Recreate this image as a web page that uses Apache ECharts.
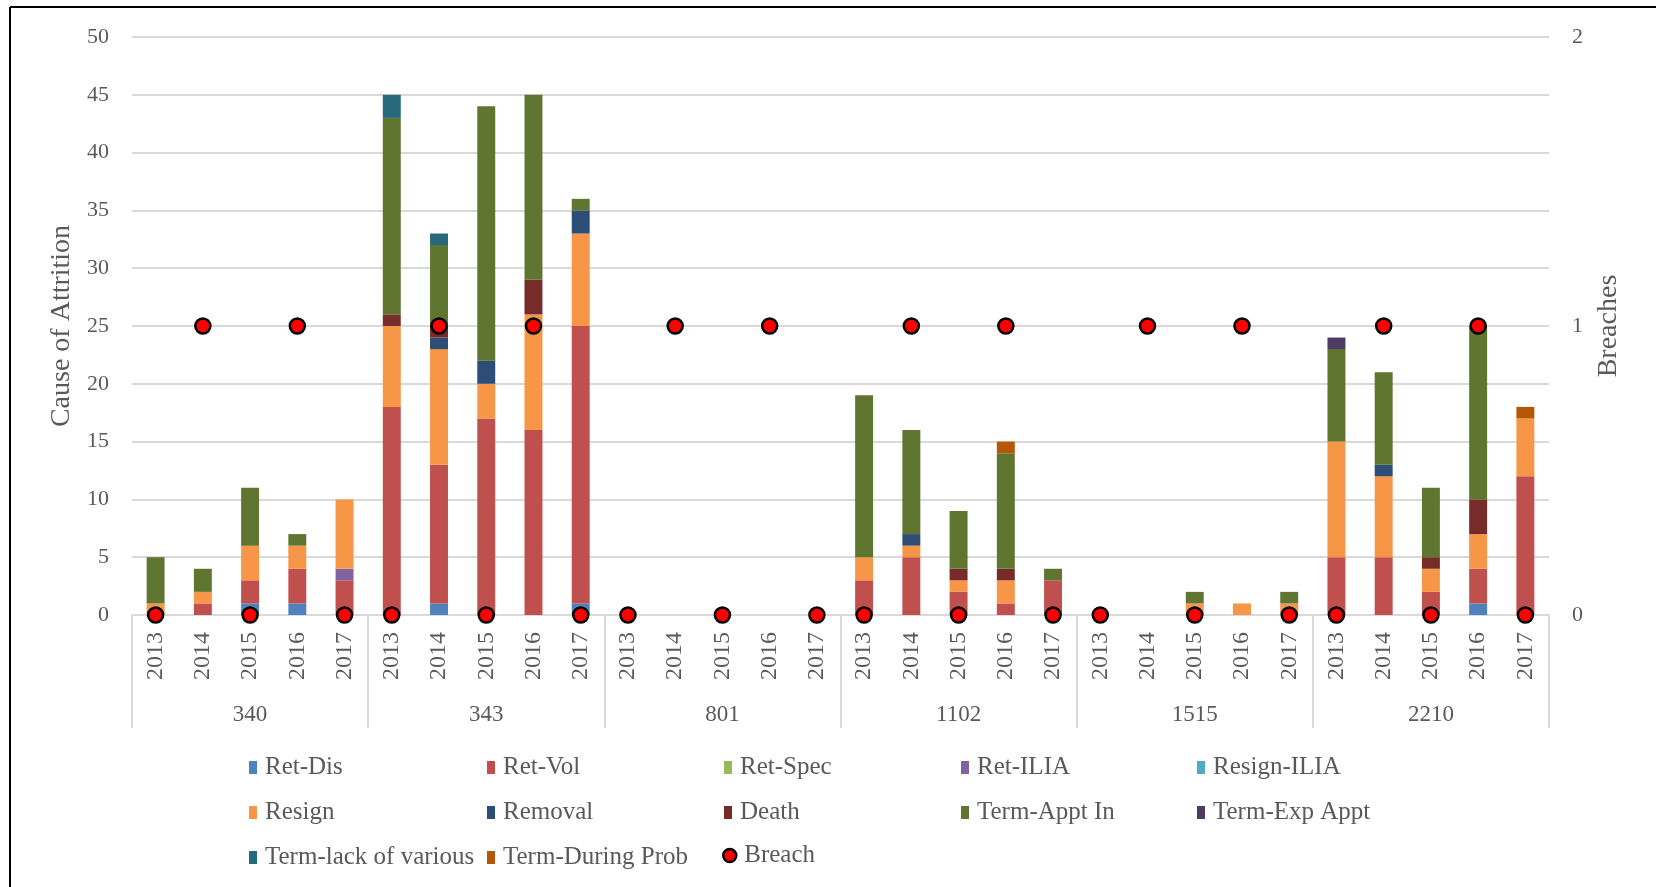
<!DOCTYPE html>
<html>
<head>
<meta charset="utf-8">
<title>Cause of Attrition</title>
<script src="https://cdn.jsdelivr.net/npm/echarts@6/dist/echarts.min.js"></script>
<style>
  html, body { margin: 0; padding: 0; background: #fff; }
  #chart { width: 1656px; height: 887px; }
</style>
</head>
<body>
<div id="chart"></div>
<script>
// categories
const years = ['2013', '2014', '2015', '2016', '2017']
const groups = ['340', '343', '801', '1102', '1515', '2210']

// stacked counts, 5 years per group in the order of `groups`
const retDis = [0, 0, 1, 1, 0, 0, 1, 0, 0, 1, 0, 0, 0, 0, 0, 0, 0, 0, 0, 0, 0, 0, 0, 0, 0, 0, 0, 0, 1, 0]
const retVol = [0, 1, 2, 3, 3, 18, 12, 17, 16, 24, 0, 0, 0, 0, 0, 3, 5, 2, 1, 3, 0, 0, 0, 0, 0, 5, 5, 2, 3, 12]
const retSpec = [0, 0, 0, 0, 0, 0, 0, 0, 0, 0, 0, 0, 0, 0, 0, 0, 0, 0, 0, 0, 0, 0, 0, 0, 0, 0, 0, 0, 0, 0]
const retIlia = [0, 0, 0, 0, 1, 0, 0, 0, 0, 0, 0, 0, 0, 0, 0, 0, 0, 0, 0, 0, 0, 0, 0, 0, 0, 0, 0, 0, 0, 0]
const resignIlia = [0, 0, 0, 0, 0, 0, 0, 0, 0, 0, 0, 0, 0, 0, 0, 0, 0, 0, 0, 0, 0, 0, 0, 0, 0, 0, 0, 0, 0, 0]
const resign = [1, 1, 3, 2, 6, 7, 10, 3, 10, 8, 0, 0, 0, 0, 0, 2, 1, 1, 2, 0, 0, 0, 1, 1, 1, 10, 7, 2, 3, 5]
const removal = [0, 0, 0, 0, 0, 0, 1, 2, 0, 2, 0, 0, 0, 0, 0, 0, 1, 0, 0, 0, 0, 0, 0, 0, 0, 0, 1, 0, 0, 0]
const death = [0, 0, 0, 0, 0, 1, 1, 0, 3, 0, 0, 0, 0, 0, 0, 0, 0, 1, 1, 0, 0, 0, 0, 0, 0, 0, 0, 1, 3, 0]
const termApptIn = [4, 2, 5, 1, 0, 17, 7, 22, 16, 1, 0, 0, 0, 0, 0, 14, 9, 5, 10, 1, 0, 0, 1, 0, 1, 8, 8, 6, 15, 0]
const termExpAppt = [0, 0, 0, 0, 0, 0, 0, 0, 0, 0, 0, 0, 0, 0, 0, 0, 0, 0, 0, 0, 0, 0, 0, 0, 0, 1, 0, 0, 0, 0]
const termLack = [0, 0, 0, 0, 0, 2, 1, 0, 0, 0, 0, 0, 0, 0, 0, 0, 0, 0, 0, 0, 0, 0, 0, 0, 0, 0, 0, 0, 0, 0]
const termDuringProb = [0, 0, 0, 0, 0, 0, 0, 0, 0, 0, 0, 0, 0, 0, 0, 0, 0, 0, 1, 0, 0, 0, 0, 0, 0, 0, 0, 0, 0, 1]

// breaches (right axis)
const breach = [0, 1, 0, 1, 0, 0, 1, 0, 1, 0, 0, 1, 0, 1, 0, 0, 1, 0, 1, 0, 0, 1, 0, 1, 0, 0, 1, 0, 1, 0]

const leftTicks = [0, 50, 5]
const rightTicks = [0, 2, 1]

const stacks = [
  ['Ret-Dis', retDis, '#4f81bd'],
  ['Ret-Vol', retVol, '#c0504d'],
  ['Ret-Spec', retSpec, '#9bbb59'],
  ['Ret-ILIA', retIlia, '#8064a2'],
  ['Resign-ILIA', resignIlia, '#4bacc6'],
  ['Resign', resign, '#f79646'],
  ['Removal', removal, '#2c4d75'],
  ['Death', death, '#772c2a'],
  ['Term-Appt In', termApptIn, '#5f7530'],
  ['Term-Exp Appt', termExpAppt, '#4d3b62'],
  ['Term-lack of various', termLack, '#276a7c'],
  ['Term-During Prob', termDuringProb, '#b65708']
]

const categories = []
groups.forEach(g => years.forEach(y => categories.push(g + '|' + y)))

const font = 'Liberation Serif'
const grey = '#595959'
const gridGrey = '#d9d9d9'
const breachStyle = { color: '#ff0000', borderColor: '#000', borderWidth: 2.5, opacity: 1 }

const series = stacks.map(s => ({
  name: s[0],
  type: 'bar',
  stack: 'attrition',
  barWidth: '38%',
  itemStyle: { color: s[2] },
  data: s[1]
}))
series.push({
  name: 'Breach',
  type: 'scatter',
  yAxisIndex: 1,
  symbol: 'circle',
  symbolSize: 15,
  z: 5,
  itemStyle: breachStyle,
  data: breach
})

// legend: five columns, filled row by row
const legendText = { fontFamily: font, fontSize: 25, lineHeight: 24, color: grey, padding: [0, 0, 0, 3] }
const legendLeft = [244, 482, 719, 956, 1192]
const legends = legendLeft.map((x, col) => ({
  orient: 'vertical',
  left: x,
  top: 750,
  itemWidth: 8,
  itemHeight: 13,
  itemGap: 20,
  selectedMode: false,
  textStyle: legendText,
  data: stacks.map(s => s[0]).filter((n, i) => i % 5 === col).map(n => ({ name: n, icon: 'rect' }))
}))
legends.push({
  left: 717,
  top: 838,
  itemWidth: 13,
  itemHeight: 13,
  selectedMode: false,
  textStyle: legendText,
  data: [{ name: 'Breach', icon: 'circle', itemStyle: { color: '#ff0000', borderColor: '#000', borderWidth: 2.5 } }]
})

const chart = echarts.init(document.getElementById('chart'), null, { renderer: 'canvas' })
chart.setOption({
  animation: false,
  backgroundColor: '#fff',
  textStyle: { fontFamily: font, color: grey },
  grid: { left: 132, right: 107, top: 37, bottom: 272, containLabel: false },
  legend: legends,
  xAxis: [
    {
      type: 'category',
      data: categories,
      axisLine: { show: false },
      axisTick: { show: false },
      axisLabel: {
        interval: 0,
        rotate: 90,
        margin: 17,
        fontFamily: font,
        fontSize: 24,
        color: grey,
        formatter: v => v.split('|')[1]
      }
    },
    {
      type: 'category',
      position: 'bottom',
      data: groups,
      axisLine: { show: true, lineStyle: { color: gridGrey, width: 2 } },
      axisTick: { show: true, interval: 0, length: 113, lineStyle: { color: gridGrey, width: 2 } },
      axisLabel: { interval: 0, margin: 88, fontFamily: font, fontSize: 23, color: grey }
    }
  ],
  yAxis: [
    {
      type: 'value',
      min: leftTicks[0],
      max: leftTicks[1],
      interval: leftTicks[2],
      name: 'Cause of Attrition',
      nameLocation: 'middle',
      nameGap: 56,
      nameTextStyle: { fontFamily: font, fontSize: 28, color: grey },
      axisLine: { show: false },
      axisTick: { show: false },
      axisLabel: { margin: 23, fontFamily: font, fontSize: 22, color: grey },
      splitLine: { lineStyle: { color: gridGrey, width: 2 } }
    },
    {
      type: 'value',
      min: rightTicks[0],
      max: rightTicks[1],
      interval: rightTicks[2],
      name: 'Breaches',
      nameLocation: 'middle',
      nameGap: 46,
      nameTextStyle: { fontFamily: font, fontSize: 28, color: grey },
      axisLine: { show: false },
      axisTick: { show: false },
      axisLabel: { margin: 23, fontFamily: font, fontSize: 22, color: grey },
      splitLine: { show: false }
    }
  ],
  graphic: [
    { type: 'line', shape: { x1: 10, y1: 7, x2: 1656, y2: 7 }, style: { stroke: '#000', lineWidth: 2 } },
    { type: 'line', shape: { x1: 10, y1: 7, x2: 10, y2: 887 }, style: { stroke: '#000', lineWidth: 2 } }
  ],
  series: series
})
</script>
</body>
</html>
